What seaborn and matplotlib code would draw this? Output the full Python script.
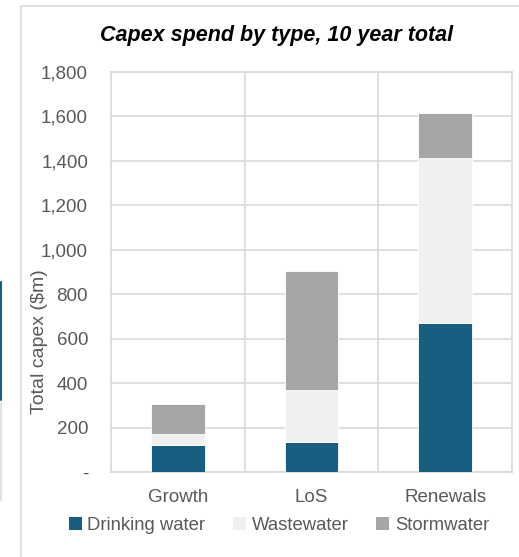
import matplotlib
matplotlib.use("Agg")
import matplotlib.pyplot as plt
import seaborn as sns
import pandas as pd
import numpy as np
from matplotlib.patches import Rectangle
from matplotlib.lines import Line2D
from matplotlib.ticker import FuncFormatter, FixedLocator

categories = ["Growth", "LoS", "Renewals"]
drinking_water = [120, 135, 671]
wastewater = [53, 233, 741]
stormwater = [132, 538, 202]
series_names = ["Drinking water", "Wastewater", "Stormwater"]
y_ticks = [0, 200, 400, 600, 800, 1000, 1200, 1400, 1600, 1800]

colors = ["#175f80", "#f0f0f0", "#a6a6a6"]
text_color = "#595959"
grid_color = "#d9d9d9"

sns.set_theme(style="white")
plt.rcParams["font.family"] = ["Liberation Sans", "DejaVu Sans"]

W, H = 519, 557
fig = plt.figure(figsize=(W / 100, H / 100), dpi=100)
ax = fig.add_axes([111 / W, 1 - 472 / H, (512 - 111) / W, (472 - 72) / H])

df = pd.DataFrame({"category": categories, "dw": drinking_water,
                   "ww": wastewater, "sw": stormwater})
bottom = np.zeros(len(categories))
for col, name, c in zip(["dw", "ww", "sw"], series_names, colors):
    sns.barplot(data=df, x="category", y=col, bottom=bottom, color=c, saturation=1,
                width=0.4, ax=ax, edgecolor="white", linewidth=0.6, zorder=3)
    bottom = bottom + df[col].values

ax.set_xlim(-0.5, 2.5)
ax.set_ylim(0, 1800)
ax.yaxis.set_major_locator(FixedLocator(y_ticks))
ax.yaxis.set_major_formatter(FuncFormatter(lambda v, p: "-" if v == 0 else f"{int(v):,}"))
ax.xaxis.set_minor_locator(FixedLocator([0.5, 1.5]))
ax.grid(axis="y", which="major", color=grid_color, linewidth=1.2, zorder=0)
ax.grid(axis="x", which="minor", color=grid_color, linewidth=1.2, zorder=0)
ax.grid(axis="x", which="major", visible=False)
for s in ax.spines.values():
    s.set_visible(True)
    s.set_color(grid_color)
    s.set_linewidth(1.2)
ax.tick_params(axis="both", which="both", length=0, labelsize=13.5, colors=text_color)
ax.tick_params(axis="y", pad=16.5)
ax.tick_params(axis="x", pad=12)
ax.set_xlabel("")
ax.set_ylabel("")

fig.text(40 / W, 1 - 342 / H, "Total capex ($m)", rotation=90, ha="center", va="center",
         fontsize=14, color=text_color)

fig.text(277 / W, 1 - 36 / H, "Capex spend by type, 10 year total", ha="center", va="center",
         fontsize=15.5, fontweight="bold", fontstyle="italic", color="black")

handles = [Rectangle((0, 0), 1, 1, facecolor=c, edgecolor="none") for c in colors]
fig.legend(handles, series_names, loc="center", bbox_to_anchor=(279 / W, 1 - 525 / H),
           ncol=3, frameon=False, fontsize=13.3, labelcolor=text_color,
           handlelength=0.7, handleheight=0.7, handletextpad=0.3, columnspacing=1.5)

# chart frame
fig.patches.append(Rectangle((21 / W, -0.1), 1.2, 1 - 6 / H + 0.1, transform=fig.transFigure,
                             facecolor="none", edgecolor=grid_color, linewidth=1.2))
fig.lines.append(Line2D([0.5 / W, 0.5 / W], [1 - 282 / H, 1 - 400 / H], transform=fig.transFigure,
                        color="#175f80", linewidth=1.5))
fig.lines.append(Line2D([0.5 / W, 0.5 / W], [1 - 403 / H, 1 - 500 / H], transform=fig.transFigure,
                        color="#dde3ea", linewidth=1.5))

fig.savefig("out.png", dpi=100)
